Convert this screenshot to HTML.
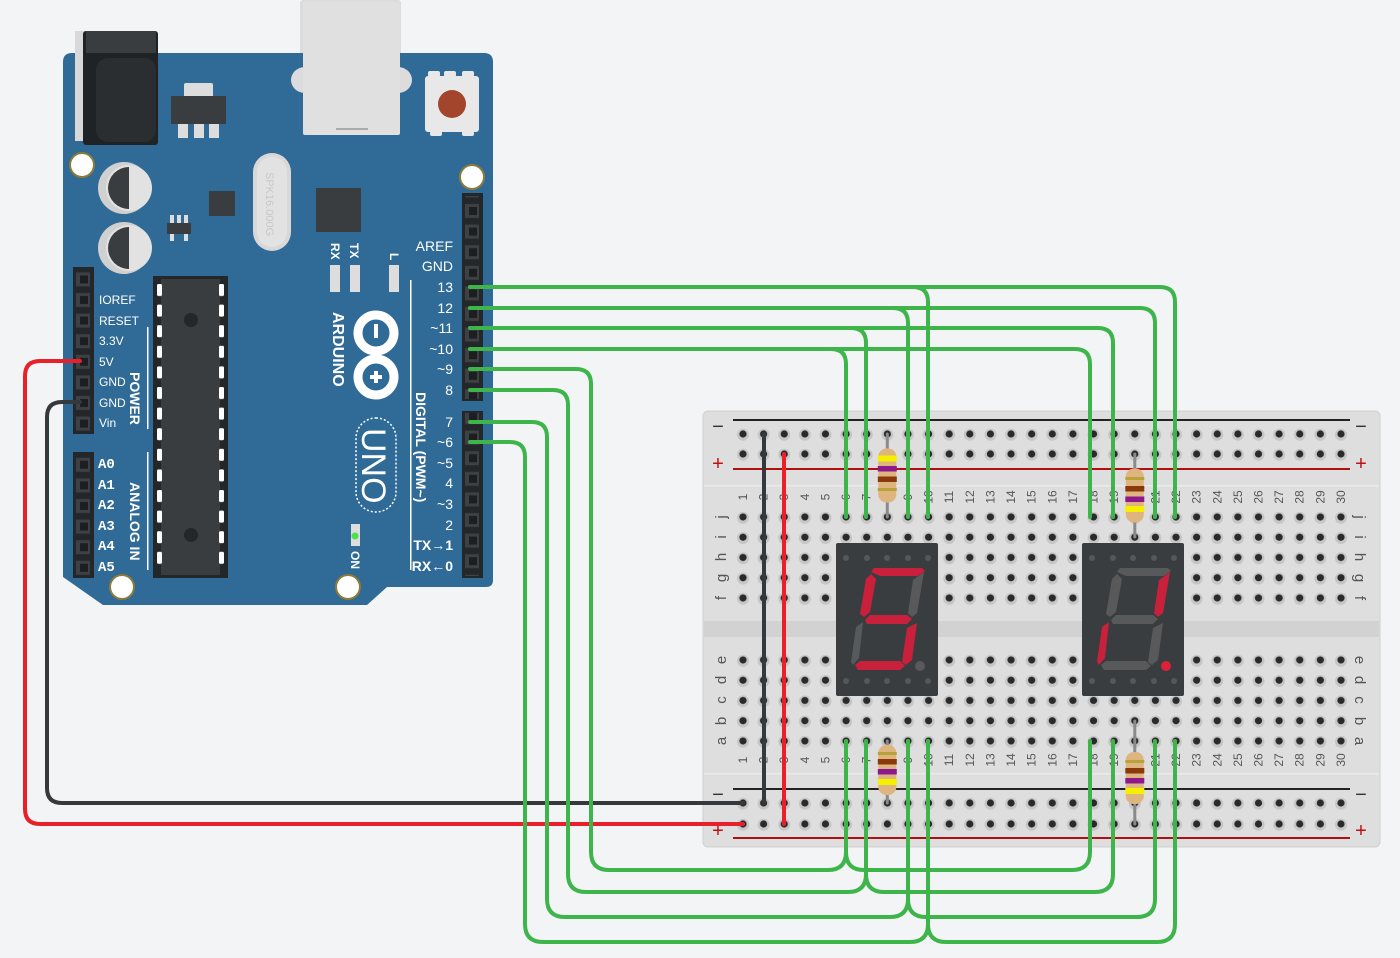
<!DOCTYPE html>
<html><head><meta charset="utf-8"><style>
html,body{margin:0;padding:0;background:#f3f4f6;}
svg{display:block;font-family:"Liberation Sans",sans-serif;}
.bl{fill:#fff;font-size:12px}
.num text{fill:#555;font-size:12px;text-anchor:middle}
.let text{fill:#555;font-size:15px;text-anchor:middle}
.gw{fill:none;stroke:#3db54a;stroke-width:4;stroke-linecap:round}
</style></head><body>
<svg width="1400" height="958" viewBox="0 0 1400 958" xmlns="http://www.w3.org/2000/svg">
<defs>
<pattern id="hA" patternUnits="userSpaceOnUse" x="732.69" y="424" width="20.62" height="20">
<circle cx="10.31" cy="10.8" r="6" fill="#c6c6c6"/><circle cx="10.31" cy="10" r="3.6" fill="#2a2a2a"/></pattern>
<pattern id="hB" patternUnits="userSpaceOnUse" x="732.69" y="506.9" width="20.62" height="20.25">
<circle cx="10.31" cy="10.9" r="6" fill="#c6c6c6"/><circle cx="10.31" cy="10.1" r="3.6" fill="#2a2a2a"/></pattern>
<pattern id="hC" patternUnits="userSpaceOnUse" x="732.69" y="649.9" width="20.62" height="20.25">
<circle cx="10.31" cy="10.9" r="6" fill="#c6c6c6"/><circle cx="10.31" cy="10.1" r="3.6" fill="#2a2a2a"/></pattern>
<pattern id="hD" patternUnits="userSpaceOnUse" x="732.69" y="792.5" width="20.62" height="21">
<circle cx="10.31" cy="11.3" r="6" fill="#c6c6c6"/><circle cx="10.31" cy="10.5" r="3.6" fill="#2a2a2a"/></pattern>
<pattern id="pn" patternUnits="userSpaceOnUse" x="0" y="-5.3" width="30" height="20.6">
<rect x="3" y="3.3" width="14" height="14" fill="#3d4144"/><rect x="7" y="6.3" width="8" height="8" fill="#1c1e20"/></pattern>
<pattern id="pn2" patternUnits="userSpaceOnUse" x="0" y="1.3" width="30" height="20.6">
<rect x="3" y="3.3" width="14" height="14" fill="#3d4144"/><rect x="7" y="6.3" width="8" height="8" fill="#1c1e20"/></pattern>
<pattern id="cpn" patternUnits="userSpaceOnUse" x="0" y="284" width="400" height="20.6">
<rect x="157" y="0" width="5" height="12" rx="1.5" fill="#fff"/><rect x="219" y="0" width="5" height="12" rx="1.5" fill="#fff"/></pattern>
</defs>
<rect width="1400" height="958" fill="#f3f4f6"/>

<!-- ===== ARDUINO ===== -->
<rect x="300" y="0" width="101" height="135" rx="3" fill="#dcdcdc"/>
<path d="M63,62 Q63,53 72,53 H484 Q493,53 493,62 V580 Q493,587 486,587 H387 L367,605 H103 L63,577 Z" fill="#2f6b96"/>
<rect x="75" y="31" width="23" height="110" fill="#d8d8d8"/>
<rect x="83" y="31" width="75" height="114" rx="3" fill="#202325"/>
<rect x="86" y="31" width="70" height="22" fill="#3a3d40"/>
<rect x="96" y="58" width="60" height="84" rx="12" fill="#2b2e31"/>
<ellipse cx="305" cy="80" rx="14" ry="13" fill="#dcdcdc"/>
<ellipse cx="398" cy="80" rx="14" ry="13" fill="#dcdcdc"/>
<rect x="303" y="2" width="97" height="133" rx="2" fill="#e0e0e0"/>
<rect x="336" y="128" width="32" height="2" fill="#aaa"/>
<rect x="425" y="76" width="54" height="56" rx="3" fill="#e8e8e8"/>
<rect x="428" y="71" width="12" height="6" rx="2" fill="#e8e8e8"/><rect x="444" y="71" width="12" height="6" rx="2" fill="#e8e8e8"/><rect x="462" y="71" width="12" height="6" rx="2" fill="#e8e8e8"/>
<rect x="430" y="131" width="12" height="5" rx="2" fill="#e8e8e8"/><rect x="462" y="131" width="12" height="5" rx="2" fill="#e8e8e8"/>
<circle cx="452" cy="104" r="14" fill="#a3442c"/>
<rect x="184" y="83" width="29" height="15" rx="2" fill="#ddd"/>
<rect x="171" y="96" width="55" height="28" fill="#3a3d40"/>
<rect x="178" y="124" width="10" height="14" fill="#ddd"/><rect x="194" y="124" width="10" height="14" fill="#ddd"/><rect x="209" y="124" width="10" height="14" fill="#ddd"/>
<circle cx="82" cy="165" r="12" fill="#fff" stroke="#8d7a3a" stroke-width="2"/>
<circle cx="472" cy="177" r="12" fill="#fff" stroke="#8d7a3a" stroke-width="2"/>
<circle cx="122" cy="587" r="12" fill="#fff" stroke="#8d7a3a" stroke-width="2"/>
<circle cx="348" cy="587" r="12" fill="#fff" stroke="#8d7a3a" stroke-width="2"/>
<circle cx="124" cy="188" r="26" fill="#d0d0d0"/><circle cx="129" cy="188" r="23" fill="#e2e2e2"/><path d="M129,167 A21,21 0 0 0 129,209 Z" fill="#3a3d40"/>
<circle cx="124" cy="248" r="26" fill="#d0d0d0"/><circle cx="129" cy="248" r="23" fill="#e2e2e2"/><path d="M129,227 A21,21 0 0 0 129,269 Z" fill="#3a3d40"/>
<rect x="209" y="191" width="26" height="25" fill="#3a3d40"/>
<rect x="167" y="223" width="24" height="11" fill="#3a3d40"/>
<rect x="170" y="215" width="4" height="8" fill="#ddd"/><rect x="177" y="215" width="4" height="8" fill="#ddd"/><rect x="184" y="215" width="4" height="8" fill="#ddd"/>
<rect x="170" y="234" width="4" height="7" fill="#ddd"/><rect x="184" y="234" width="4" height="7" fill="#ddd"/>
<rect x="253" y="153" width="38" height="98" rx="19" fill="#d8d8d8"/>
<rect x="257" y="157" width="30" height="90" rx="15" fill="#e2e2e2"/>
<text transform="translate(266,172) rotate(90)" fill="#c8c8c8" font-size="11">SPK16.000G</text>
<rect x="316" y="188" width="45" height="44" fill="#3a3d40"/>
<text transform="translate(331,243) rotate(90)" class="bl" font-weight="bold">RX</text>
<text transform="translate(350,243) rotate(90)" class="bl" font-weight="bold">TX</text>
<text transform="translate(390,253) rotate(90)" class="bl" font-weight="bold">L</text>
<rect x="330" y="265" width="10" height="27" fill="#ddd"/><rect x="350" y="265" width="10" height="27" fill="#ddd"/><rect x="389" y="265" width="10" height="27" fill="#ddd"/>
<text transform="translate(333,312) rotate(90)" fill="#fff" font-size="16" font-weight="bold">ARDUINO</text>
<g fill="none" stroke="#fff" stroke-width="9"><circle cx="376" cy="333" r="18"/><circle cx="376" cy="377" r="18"/></g>
<rect x="374" y="324" width="4" height="14" fill="#fff"/>
<rect x="370" y="375" width="12" height="4" fill="#fff"/><rect x="374" y="371" width="4" height="12" fill="#fff"/>
<rect x="356" y="418" width="40" height="94" rx="20" fill="none" stroke="#fff" stroke-width="1.5" stroke-dasharray="2,2"/>
<text transform="translate(362,428) rotate(90)" fill="#fff" font-size="34">UNO</text>
<rect x="351" y="524" width="9" height="22" fill="#ddd"/><circle cx="355" cy="536" r="3.5" fill="#4fdc4f"/>
<text transform="translate(351,551) rotate(90)" class="bl" font-weight="bold" font-size="11">ON</text>
<rect x="410" y="280" width="1.5" height="290" fill="#fff"/>
<text transform="translate(416,392) rotate(90)" fill="#fff" font-size="14" font-weight="bold">DIGITAL (PWM~)</text>
<rect x="462" y="193" width="21" height="208" fill="#24272a"/>
<rect x="462" y="411" width="21" height="167" fill="#24272a"/>
<rect x="73" y="267" width="21" height="167" fill="#24272a"/>
<rect x="73" y="452" width="21" height="126" fill="#24272a"/>
<g transform="translate(462,0)"><rect x="0" y="196" width="21" height="203" fill="url(#pn)"/><rect x="0" y="413" width="21" height="163" fill="url(#pn)"/></g>
<g transform="translate(73,0)"><rect x="0" y="269" width="21" height="163" fill="url(#pn2)"/><rect x="0" y="454" width="21" height="122" fill="url(#pn2)"/></g>
<rect x="147" y="327" width="1.5" height="102" fill="#fff"/>
<rect x="147" y="452" width="1.5" height="118" fill="#fff"/>
<text transform="translate(130,372) rotate(90)" fill="#fff" font-size="14" font-weight="bold">POWER</text>
<text transform="translate(130,482) rotate(90)" fill="#fff" font-size="14" font-weight="bold">ANALOG IN</text>
<rect x="153" y="276" width="75" height="302" fill="#24272a"/>
<rect x="161" y="279" width="59" height="296" fill="#3a3d40"/>
<rect x="150" y="284" width="80" height="288" fill="url(#cpn)"/>
<circle cx="191" cy="320" r="7" fill="#24272a"/><circle cx="191" cy="535" r="7" fill="#24272a"/>
<g class="bl">
<text x="99" y="304">IOREF</text><text x="99" y="325">RESET</text><text x="99" y="345">3.3V</text><text x="99" y="366">5V</text><text x="99" y="386">GND</text><text x="99" y="407">GND</text><text x="99" y="427">Vin</text>
</g>
<g fill="#fff" font-family="Liberation Mono,monospace" font-weight="bold" font-size="14">
<text x="98" y="468">A0</text><text x="98" y="489">A1</text><text x="98" y="509">A2</text><text x="98" y="530">A3</text><text x="98" y="550">A4</text><text x="98" y="571">A5</text>
</g>
<g fill="#fff" font-size="14" text-anchor="end">
<text x="453" y="251">AREF</text><text x="453" y="271">GND</text><text x="453" y="292">13</text><text x="453" y="313">12</text><text x="453" y="333">~11</text><text x="453" y="354">~10</text><text x="453" y="374">~9</text><text x="453" y="395">8</text><text x="453" y="427">7</text><text x="453" y="447">~6</text><text x="453" y="468">~5</text><text x="453" y="488">4</text><text x="453" y="509">~3</text><text x="453" y="530">2</text><text x="453" y="550" font-weight="bold">TX→1</text><text x="453" y="571" font-weight="bold">RX←0</text>
</g>

<!-- ===== BREADBOARD ===== -->
<rect x="703" y="411" width="677" height="436" rx="5" fill="#dedede" stroke="#d0d0d0"/>
<rect x="704" y="621" width="675" height="16" fill="#d2d2d2"/>
<rect x="704" y="485" width="675" height="1.5" fill="#eaeaea"/>
<rect x="704" y="773" width="675" height="1.5" fill="#eaeaea"/>
<rect x="733" y="419" width="617" height="2" fill="#222"/>
<rect x="733" y="468" width="617" height="2" fill="#b01010"/>
<rect x="733" y="788" width="617" height="2" fill="#222"/>
<rect x="733" y="837" width="617" height="2" fill="#b01010"/>
<g font-size="20" text-anchor="middle">
<text x="718" y="433" fill="#333">−</text><text x="718" y="470" fill="#c01010">+</text>
<text x="1361" y="433" fill="#333">−</text><text x="1361" y="470" fill="#c01010">+</text>
<text x="718" y="801" fill="#333">−</text><text x="718" y="837" fill="#c01010">+</text>
<text x="1361" y="801" fill="#333">−</text><text x="1361" y="837" fill="#c01010">+</text>
</g>
<rect x="732.69" y="424" width="618.6" height="40" fill="url(#hA)"/>
<rect x="732.69" y="506.9" width="618.6" height="101.25" fill="url(#hB)"/>
<rect x="732.69" y="649.9" width="618.6" height="101.25" fill="url(#hC)"/>
<rect x="732.69" y="792.5" width="618.6" height="42" fill="url(#hD)"/>
<g class="let">
<text transform="translate(726,517) rotate(-90)">j</text>
<text transform="translate(726,537) rotate(-90)">i</text>
<text transform="translate(726,557) rotate(-90)">h</text>
<text transform="translate(726,578) rotate(-90)">g</text>
<text transform="translate(726,598) rotate(-90)">f</text>
<text transform="translate(726,660) rotate(-90)">e</text>
<text transform="translate(726,680) rotate(-90)">d</text>
<text transform="translate(726,700) rotate(-90)">c</text>
<text transform="translate(726,721) rotate(-90)">b</text>
<text transform="translate(726,741) rotate(-90)">a</text>
<text transform="translate(1355,517) rotate(90)">j</text>
<text transform="translate(1355,537) rotate(90)">i</text>
<text transform="translate(1355,557) rotate(90)">h</text>
<text transform="translate(1355,578) rotate(90)">g</text>
<text transform="translate(1355,598) rotate(90)">f</text>
<text transform="translate(1355,660) rotate(90)">e</text>
<text transform="translate(1355,680) rotate(90)">d</text>
<text transform="translate(1355,700) rotate(90)">c</text>
<text transform="translate(1355,721) rotate(90)">b</text>
<text transform="translate(1355,741) rotate(90)">a</text>
</g>
<g class="num">
<text transform="translate(747,497) rotate(-90)">1</text>
<text transform="translate(767.6,497) rotate(-90)">2</text>
<text transform="translate(788.2,497) rotate(-90)">3</text>
<text transform="translate(808.9,497) rotate(-90)">4</text>
<text transform="translate(829.5,497) rotate(-90)">5</text>
<text transform="translate(850.1,497) rotate(-90)">6</text>
<text transform="translate(870.7,497) rotate(-90)">7</text>
<text transform="translate(891.3,497) rotate(-90)">8</text>
<text transform="translate(912,497) rotate(-90)">9</text>
<text transform="translate(932.6,497) rotate(-90)">10</text>
<text transform="translate(953.2,497) rotate(-90)">11</text>
<text transform="translate(973.8,497) rotate(-90)">12</text>
<text transform="translate(994.4,497) rotate(-90)">13</text>
<text transform="translate(1015.1,497) rotate(-90)">14</text>
<text transform="translate(1035.7,497) rotate(-90)">15</text>
<text transform="translate(1056.3,497) rotate(-90)">16</text>
<text transform="translate(1076.9,497) rotate(-90)">17</text>
<text transform="translate(1097.5,497) rotate(-90)">18</text>
<text transform="translate(1118.2,497) rotate(-90)">19</text>
<text transform="translate(1138.8,497) rotate(-90)">20</text>
<text transform="translate(1159.4,497) rotate(-90)">21</text>
<text transform="translate(1180,497) rotate(-90)">22</text>
<text transform="translate(1200.6,497) rotate(-90)">23</text>
<text transform="translate(1221.3,497) rotate(-90)">24</text>
<text transform="translate(1241.9,497) rotate(-90)">25</text>
<text transform="translate(1262.5,497) rotate(-90)">26</text>
<text transform="translate(1283.1,497) rotate(-90)">27</text>
<text transform="translate(1303.7,497) rotate(-90)">28</text>
<text transform="translate(1324.4,497) rotate(-90)">29</text>
<text transform="translate(1345,497) rotate(-90)">30</text>
<text transform="translate(747,760) rotate(-90)">1</text>
<text transform="translate(767.6,760) rotate(-90)">2</text>
<text transform="translate(788.2,760) rotate(-90)">3</text>
<text transform="translate(808.9,760) rotate(-90)">4</text>
<text transform="translate(829.5,760) rotate(-90)">5</text>
<text transform="translate(850.1,760) rotate(-90)">6</text>
<text transform="translate(870.7,760) rotate(-90)">7</text>
<text transform="translate(891.3,760) rotate(-90)">8</text>
<text transform="translate(912,760) rotate(-90)">9</text>
<text transform="translate(932.6,760) rotate(-90)">10</text>
<text transform="translate(953.2,760) rotate(-90)">11</text>
<text transform="translate(973.8,760) rotate(-90)">12</text>
<text transform="translate(994.4,760) rotate(-90)">13</text>
<text transform="translate(1015.1,760) rotate(-90)">14</text>
<text transform="translate(1035.7,760) rotate(-90)">15</text>
<text transform="translate(1056.3,760) rotate(-90)">16</text>
<text transform="translate(1076.9,760) rotate(-90)">17</text>
<text transform="translate(1097.5,760) rotate(-90)">18</text>
<text transform="translate(1118.2,760) rotate(-90)">19</text>
<text transform="translate(1138.8,760) rotate(-90)">20</text>
<text transform="translate(1159.4,760) rotate(-90)">21</text>
<text transform="translate(1180,760) rotate(-90)">22</text>
<text transform="translate(1200.6,760) rotate(-90)">23</text>
<text transform="translate(1221.3,760) rotate(-90)">24</text>
<text transform="translate(1241.9,760) rotate(-90)">25</text>
<text transform="translate(1262.5,760) rotate(-90)">26</text>
<text transform="translate(1283.1,760) rotate(-90)">27</text>
<text transform="translate(1303.7,760) rotate(-90)">28</text>
<text transform="translate(1324.4,760) rotate(-90)">29</text>
<text transform="translate(1345,760) rotate(-90)">30</text>
</g>

<!-- displays -->
<g transform="translate(836,543)">
<rect x="0" y="0" width="102" height="153" rx="2" fill="#3a3d40"/>
<g fill="#55585b"><circle cx="10" cy="15" r="3"/><circle cx="31" cy="15" r="3"/><circle cx="51" cy="15" r="3"/><circle cx="72" cy="15" r="3"/><circle cx="92" cy="15" r="3"/>
<circle cx="10" cy="138" r="3"/><circle cx="31" cy="138" r="3"/><circle cx="51" cy="138" r="3"/><circle cx="72" cy="138" r="3"/><circle cx="92" cy="138" r="3"/></g>
<polygon points="38,25 86,25 89,28 82,33 44,33 35,29" fill="#c9203b"/>
<polygon points="35,31 40,36 34,69 28,74 24,71 30,36" fill="#c9203b"/>
<polygon points="88,29 81,70 76,74 72,70 77,37" fill="#57595b"/>
<polygon points="29,77 34,72 71,72 76,76 71,81 31,81" fill="#c9203b"/>
<polygon points="27,79 23,115 17,122 15,119 20,84" fill="#57595b"/>
<polygon points="81,80 76,117 70,122 66,119 71,85" fill="#c9203b"/>
<polygon points="19,122 24,118 64,118 69,123 64,127 22,127" fill="#c9203b"/>
<circle cx="84" cy="123" r="5" fill="#57595b"/>
</g>
<g transform="translate(1082,543)">
<rect x="0" y="0" width="102" height="153" rx="2" fill="#3a3d40"/>
<g fill="#55585b"><circle cx="10" cy="15" r="3"/><circle cx="31" cy="15" r="3"/><circle cx="51" cy="15" r="3"/><circle cx="72" cy="15" r="3"/><circle cx="92" cy="15" r="3"/>
<circle cx="10" cy="138" r="3"/><circle cx="31" cy="138" r="3"/><circle cx="51" cy="138" r="3"/><circle cx="72" cy="138" r="3"/><circle cx="92" cy="138" r="3"/></g>
<polygon points="38,25 86,25 89,28 82,33 44,33 35,29" fill="#57595b"/>
<polygon points="35,31 40,36 34,69 28,74 24,71 30,36" fill="#57595b"/>
<polygon points="88,29 81,70 76,74 72,70 77,37" fill="#c9203b"/>
<polygon points="29,77 34,72 71,72 76,76 71,81 31,81" fill="#57595b"/>
<polygon points="27,79 23,115 17,122 15,119 20,84" fill="#c9203b"/>
<polygon points="81,80 76,117 70,122 66,119 71,85" fill="#57595b"/>
<polygon points="19,122 24,118 64,118 69,123 64,127 22,127" fill="#57595b"/>
<circle cx="84" cy="123" r="5" fill="#e0203b"/>
</g>

<!-- jumpers -->
<line x1="764" y1="434" x2="764" y2="803" stroke="#35393c" stroke-width="4" stroke-linecap="round"/>
<line x1="784" y1="454" x2="784" y2="824" stroke="#e8202a" stroke-width="4" stroke-linecap="round"/>

<!-- resistors -->
<g>
<line x1="887.3" y1="434" x2="887.3" y2="517" stroke="#8a8a8a" stroke-width="3" stroke-linecap="round"/>
<rect x="878.3" y="448.5" width="18" height="54" rx="8" fill="#deb57e"/>
<rect x="877.8" y="455.5" width="19" height="6" fill="#f5f000"/><rect x="877.8" y="466" width="19" height="5.5" fill="#8d1a8d"/><rect x="877.8" y="476.5" width="19" height="5.5" fill="#8a3a0a"/><rect x="877.8" y="488" width="19" height="3" fill="#b8a23a"/>

<line x1="1134.8" y1="454" x2="1134.8" y2="537" stroke="#8a8a8a" stroke-width="3" stroke-linecap="round"/>
<rect x="1125.8" y="468.5" width="18" height="54" rx="8" fill="#deb57e"/>
<rect x="1125.3" y="477" width="19" height="3" fill="#b8a23a"/><rect x="1125.3" y="486" width="19" height="5.5" fill="#8a3a0a"/><rect x="1125.3" y="496.5" width="19" height="5.5" fill="#8d1a8d"/><rect x="1125.3" y="506" width="19" height="6" fill="#f5f000"/>

<line x1="887.3" y1="741" x2="887.3" y2="803" stroke="#8a8a8a" stroke-width="3" stroke-linecap="round"/>
<rect x="878.3" y="745" width="18" height="50" rx="8" fill="#deb57e"/>
<rect x="877.8" y="752" width="19" height="3" fill="#b8a23a"/><rect x="877.8" y="759" width="19" height="5.5" fill="#8a3a0a"/><rect x="877.8" y="769" width="19" height="5.5" fill="#8d1a8d"/><rect x="877.8" y="779" width="19" height="6" fill="#f5f000"/>

<line x1="1134.8" y1="721" x2="1134.8" y2="824" stroke="#8a8a8a" stroke-width="3" stroke-linecap="round"/>
<rect x="1125.8" y="752" width="18" height="52" rx="8" fill="#deb57e"/>
<rect x="1125.3" y="760" width="19" height="3" fill="#b8a23a"/><rect x="1125.3" y="768" width="19" height="5.5" fill="#8a3a0a"/><rect x="1125.3" y="778" width="19" height="5.5" fill="#8d1a8d"/><rect x="1125.3" y="788" width="19" height="6" fill="#f5f000"/>
</g>

<!-- power wires -->
<path d="M80,361 H40 Q25,361 25,376 V809 Q25,824 40,824 H743" fill="none" stroke="#e8202a" stroke-width="4" stroke-linecap="round"/>
<path d="M80,402 H62 Q47,402 47,417 V788 Q47,803 62,803 H743" fill="none" stroke="#35393c" stroke-width="4" stroke-linecap="round"/>

<g class="gw">
<path d="M470,287 H913 Q928,287 928,302 V517"/>
<path d="M470,287 H1160 Q1175,287 1175,302 V517"/>
<path d="M470,308 H893 Q908,308 908,323 V517"/>
<path d="M470,308 H1140 Q1155,308 1155,323 V517"/>
<path d="M470,328 H851 Q866,328 866,343 V517"/>
<path d="M470,328 H1098 Q1113,328 1113,343 V517"/>
<path d="M470,349 H831 Q846,349 846,364 V517"/>
<path d="M470,349 H1075 Q1090,349 1090,364 V517"/>
<path d="M470,369 H576 Q591,369 591,384 V852 Q591,870 609,870 H828 Q846,870 846,852 V741"/>
<path d="M846,741 V852 Q846,870 864,870 H1072 Q1090,870 1090,852 V741"/>
<path d="M470,390 H553 Q568,390 568,405 V874 Q568,892 586,892 H848 Q866,892 866,874 V741"/>
<path d="M866,741 V874 Q866,892 884,892 H1095 Q1113,892 1113,874 V741"/>
<path d="M470,422 H532 Q547,422 547,437 V899 Q547,917 565,917 H890 Q908,917 908,899 V741"/>
<path d="M908,741 V899 Q908,917 926,917 H1137 Q1155,917 1155,899 V741"/>
<path d="M470,442 H510 Q525,442 525,457 V924 Q525,942 543,942 H910 Q928,942 928,924 V741"/>
<path d="M928,741 V924 Q928,942 946,942 H1157 Q1175,942 1175,924 V741"/>
</g>
</svg>
</body></html>
